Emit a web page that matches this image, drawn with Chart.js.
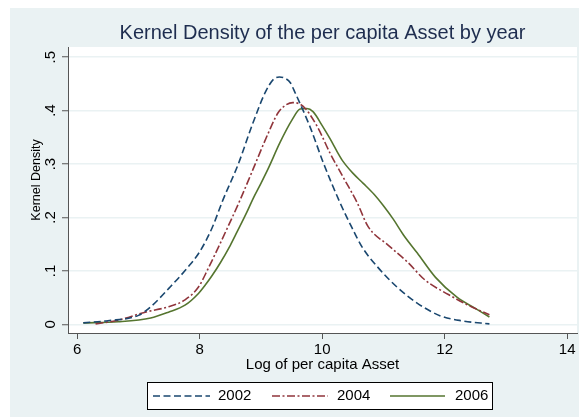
<!DOCTYPE html>
<html>
<head>
<meta charset="utf-8">
<script src="https://cdn.jsdelivr.net/npm/chart.js@4.4.0/dist/chart.umd.min.js"></script>
<style>
  html, body { margin: 0; padding: 0; background: #fff; }
  canvas { display: block; }
</style>
</head>
<body>
<canvas id="kdChart" width="579" height="417"></canvas>
<script>
// values
const years = ['2002', '2004', '2006'];

const x2002 = [6.1, 6.5, 7.0, 7.2, 7.5, 7.8, 8.0, 8.2, 8.38, 8.63, 8.86, 9.07, 9.2, 9.3, 9.4, 9.48, 9.56, 9.8, 10.02, 10.29, 10.49, 10.65, 10.9, 11.22, 11.55, 11.93, 12.3, 12.73];
const y2002 = [0.003, 0.007, 0.017, 0.033, 0.068, 0.106, 0.136, 0.18, 0.233, 0.30, 0.374, 0.434, 0.458, 0.463, 0.46, 0.452, 0.433, 0.37, 0.302, 0.228, 0.18, 0.145, 0.108, 0.07, 0.04, 0.016, 0.0065, 0.001];

const x2004 = [6.3, 6.67, 7.11, 7.49, 7.76, 7.98, 8.14, 8.45, 8.66, 8.87, 9.12, 9.28, 9.4, 9.52, 9.69, 9.92, 10.13, 10.34, 10.57, 10.75, 11.08, 11.39, 11.68, 12.06, 12.4, 12.73];
const y2004 = [0.001, 0.008, 0.023, 0.033, 0.046, 0.07, 0.105, 0.18, 0.233, 0.29, 0.358, 0.396, 0.41, 0.415, 0.408, 0.37, 0.32, 0.276, 0.228, 0.183, 0.148, 0.117, 0.083, 0.056, 0.035, 0.018];

const x2006 = [6.1, 6.67, 7.2, 7.49, 7.76, 7.98, 8.1, 8.2, 8.33, 8.5, 8.61, 8.77, 8.87, 9.0, 9.12, 9.31, 9.51, 9.64, 9.75, 9.85, 10.0, 10.13, 10.25, 10.34, 10.5, 10.67, 10.85, 11.0, 11.16, 11.33, 11.55, 11.85, 12.2, 12.5, 12.73];
const y2006 = [0.003, 0.005, 0.012, 0.023, 0.036, 0.058, 0.075, 0.091, 0.114, 0.148, 0.173, 0.21, 0.235, 0.264, 0.292, 0.34, 0.383, 0.403, 0.404, 0.398, 0.372, 0.347, 0.322, 0.305, 0.283, 0.264, 0.243, 0.222, 0.197, 0.167, 0.134, 0.088, 0.051, 0.03, 0.014];

const xTicks = [6, 8, 10, 12, 14];
const yTicks = [0, 0.1, 0.2, 0.3, 0.4, 0.5];
const yTickLabels = ['0', '.1', '.2', '.3', '.4', '.5'];

const FONT = '"Liberation Sans", Arial, sans-serif';

function pts(xs, ys) {
    return xs.map((x, i) => ({ x: x, y: ys[i] }));
}

// backgrounds, title, rotated y labels and the boxed legend
const stataLook = {
    id: 'stataLook',
    beforeDraw(chart) {
        const ctx = chart.ctx;
        const a = chart.chartArea;
        ctx.save();
        ctx.fillStyle = '#ffffff';
        ctx.fillRect(0, 0, chart.width, chart.height);
        ctx.fillStyle = '#eaf2f3';
        ctx.fillRect(10, 8, chart.width - 10, chart.height - 8);
        ctx.fillStyle = '#ffffff';
        ctx.fillRect(a.left, a.top, a.right - a.left, a.bottom - a.top);
        ctx.restore();
    },
    afterDraw(chart) {
        const ctx = chart.ctx;
        const a = chart.chartArea;
        const yScale = chart.scales.y;
        ctx.save();

        // title
        ctx.fillStyle = '#1e2d4f';
        ctx.font = '20px ' + FONT;
        ctx.textAlign = 'center';
        ctx.textBaseline = 'middle';
        ctx.fillText('Kernel Density of the per capita Asset by year', (a.left + a.right) / 2, 33);

        // y tick labels, rotated like stata does
        ctx.fillStyle = '#000';
        ctx.font = '15px ' + FONT;
        yTicks.forEach((v, i) => {
            ctx.save();
            ctx.translate(51, yScale.getPixelForValue(v));
            ctx.rotate(-Math.PI / 2);
            ctx.fillText(yTickLabels[i], 0, 0);
            ctx.restore();
        });

        // y title
        ctx.save();
        ctx.font = '12.5px ' + FONT;
        ctx.translate(37, 180);
        ctx.rotate(-Math.PI / 2);
        ctx.fillText('Kernel Density', 0, 0);
        ctx.restore();

        // x title
        ctx.font = '15px ' + FONT;
        ctx.fillText('Log of per capita Asset', (a.left + a.right) / 2, 365);

        // legend
        ctx.fillStyle = '#fff';
        ctx.fillRect(147.5, 382.5, 345, 27);
        ctx.strokeStyle = '#000';
        ctx.lineWidth = 1;
        ctx.strokeRect(147.5, 382.5, 345, 27);
        const items = [[153, 210, 218], [272, 328, 337], [390, 445, 455]];
        chart.data.datasets.forEach((ds, i) => {
            const it = items[i];
            ctx.beginPath();
            ctx.strokeStyle = ds.borderColor;
            ctx.lineWidth = ds.borderWidth;
            ctx.setLineDash(ds.borderDash || []);
            ctx.moveTo(it[0], 396);
            ctx.lineTo(it[1], 396);
            ctx.stroke();
            ctx.setLineDash([]);
            ctx.fillStyle = '#000';
            ctx.textAlign = 'left';
            ctx.fillText(ds.label, it[2], 396);
        });
        ctx.restore();
    }
};

const ctx = document.getElementById('kdChart').getContext('2d');
new Chart(ctx, {
    type: 'line',
    data: {
        datasets: [{
            label: years[0],
            data: pts(x2002, y2002),
            borderColor: '#1a476f',
            borderWidth: 1.6,
            borderDash: [7, 3.5]
        }, {
            label: years[1],
            data: pts(x2004, y2004),
            borderColor: '#90353b',
            borderWidth: 1.6,
            borderDash: [8, 2.5, 2, 2.5]
        }, {
            label: years[2],
            data: pts(x2006, y2006),
            borderColor: '#55752f',
            borderWidth: 1.6
        }]
    },
    options: {
        responsive: false,
        animation: false,
        devicePixelRatio: 1,
        layout: { padding: { top: 47, right: 2, left: 0, bottom: 0 } },
        elements: {
            point: { radius: 0 },
            line: { cubicInterpolationMode: 'monotone', fill: false }
        },
        plugins: {
            legend: { display: false },
            title: { display: false },
            tooltip: { enabled: false }
        },
        scales: {
            x: {
                type: 'linear',
                min: 5.85,
                max: 14.16,
                afterBuildTicks: scale => { scale.ticks = xTicks.map(v => ({ value: v })); },
                afterFit: scale => { scale.height = 84; },
                ticks: {
                    color: '#000',
                    font: { family: FONT, size: 15 },
                    padding: 2,
                    maxRotation: 0,
                    autoSkip: false
                },
                grid: {
                    drawOnChartArea: false,
                    drawTicks: true,
                    tickLength: 6,
                    tickColor: '#555',
                    tickWidth: 1
                },
                border: { color: '#555', width: 1 }
            },
            y: {
                type: 'linear',
                min: -0.016,
                max: 0.519,
                afterBuildTicks: scale => { scale.ticks = yTicks.map(v => ({ value: v })); },
                afterFit: scale => { scale.width = 68; },
                ticks: { display: false },
                grid: {
                    color: '#eaf2f3',
                    lineWidth: 1.5,
                    drawTicks: true,
                    tickLength: 6,
                    tickColor: '#555',
                    tickWidth: 1
                },
                border: { color: '#555', width: 1 }
            }
        }
    },
    plugins: [stataLook]
});
</script>
</body>
</html>
